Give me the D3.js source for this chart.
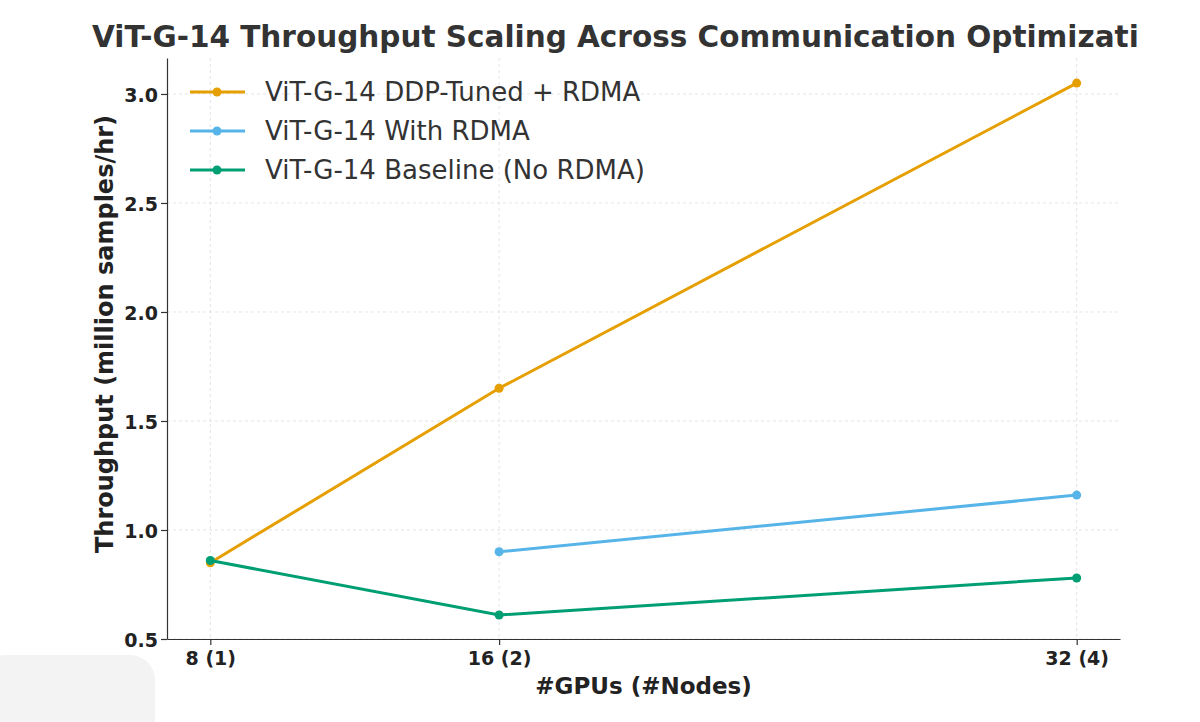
<!DOCTYPE html><html><head><script src="https://cdn.jsdelivr.net/npm/d3@7"></script>
<style>body{margin:0;background:#fff}text{font-family:"DejaVu Sans",sans-serif}</style></head><body>
<svg id="c" width="1200" height="722"></svg>
<script>
const gpus=[8,16,32];
const xLabels=["8 (1)","16 (2)","32 (4)"];
const ddp=[0.85,1.65,3.05];
const rdma=[null,0.90,1.16];
const base=[0.86,0.61,0.78];
const yTicks=[0.5,1.0,1.5,2.0,2.5,3.0];
const series=[{name:"ViT-G-14 DDP-Tuned + RDMA",v:ddp,c:"#E69F00"},{name:"ViT-G-14 With RDMA",v:rdma,c:"#56B4E9"},{name:"ViT-G-14 Baseline (No RDMA)",v:base,c:"#009E73"}];
const svg=d3.select("#c");
const L=167,R=1120,T=58,B=639;
const x=d3.scaleLinear().domain([6.8,33.2]).range([L,R]);
const y=d3.scaleLinear().domain([0.5,3.165]).range([B,T]);
svg.append("rect").attr("x",-20).attr("y",655).attr("width",175).attr("height",90).attr("rx",25).attr("fill","#f3f3f3");
const g=svg.append("g");
g.selectAll(".gy").data(yTicks).join("line").attr("x1",L).attr("x2",R).attr("y1",d=>y(d)).attr("y2",d=>y(d)).attr("stroke","#ddd").attr("stroke-dasharray","3,3").attr("stroke-width",0.8);
g.selectAll(".gx").data(gpus).join("line").attr("x1",d=>x(d)).attr("x2",d=>x(d)).attr("y1",T).attr("y2",B).attr("stroke","#ddd").attr("stroke-dasharray","3,3").attr("stroke-width",0.8);
const ya=svg.append("g").attr("transform",`translate(${L},0)`).call(d3.axisLeft(y).tickValues(yTicks).tickFormat(d3.format(".1f")).tickSizeOuter(0));
const xa=svg.append("g").attr("transform",`translate(0,${B})`).call(d3.axisBottom(x).tickValues(gpus).tickFormat((d,i)=>xLabels[i]).tickSizeOuter(0));
[ya,xa].forEach(a=>{a.selectAll("text").attr("font-size",19).attr("font-weight","bold").attr("fill","#222");a.selectAll("path,line").attr("stroke","#333").attr("stroke-width",1.2);});
xa.selectAll("text").attr("dy","0.9em");
ya.selectAll("text").attr("dy","0.4em");
series.forEach(s=>{
 const pts=gpus.map((d,i)=>[d,s.v[i]]).filter(p=>p[1]!=null);
 svg.append("path").datum(pts).attr("fill","none").attr("stroke",s.c).attr("stroke-width",3).attr("d",d3.line().x(p=>x(p[0])).y(p=>y(p[1])));
 svg.selectAll(null).data(pts).join("circle").attr("cx",p=>x(p[0])).attr("cy",p=>y(p[1])).attr("r",4.5).attr("fill",s.c);
});
const lg=svg.append("g");
series.forEach((s,i)=>{const yy=92+i*39;
 lg.append("line").attr("x1",190).attr("x2",245).attr("y1",yy).attr("y2",yy).attr("stroke",s.c).attr("stroke-width",3);
 lg.append("circle").attr("cx",217).attr("cy",yy).attr("r",4.5).attr("fill",s.c);
 lg.append("text").attr("x",265).attr("y",yy+9).attr("font-size",26).attr("fill","#333").text(s.name);});
svg.append("defs").append("clipPath").attr("id","tc").append("rect").attr("x",0).attr("y",0).attr("width",1138).attr("height",60);
svg.append("text").attr("clip-path","url(#tc)").attr("x",92).attr("y",47).attr("font-size",29.5).attr("font-weight","bold").attr("fill","#333").text("ViT-G-14 Throughput Scaling Across Communication Optimizations");
svg.append("text").attr("x",(L+R)/2).attr("y",694).attr("text-anchor","middle").attr("font-size",23).attr("font-weight","bold").attr("fill","#222").text("#GPUs (#Nodes)");
svg.append("text").attr("transform",`translate(113,334) rotate(-90)`).attr("text-anchor","middle").attr("font-size",24).attr("font-weight","bold").attr("fill","#222").text("Throughput (million samples/hr)");
</script></body></html>
